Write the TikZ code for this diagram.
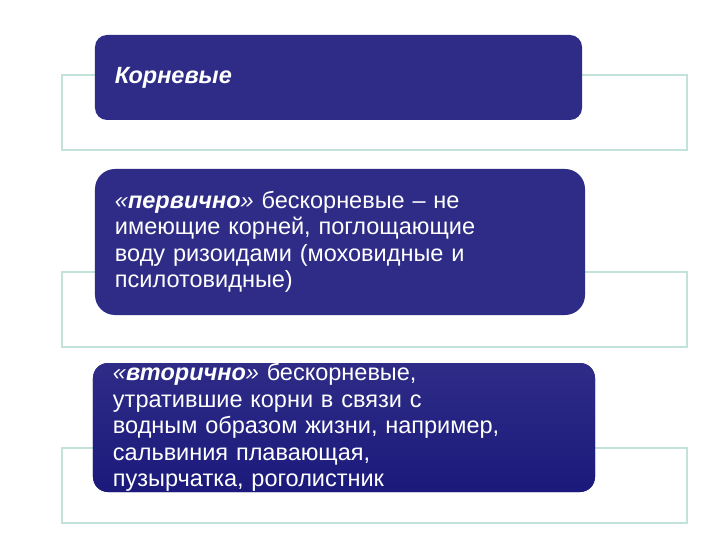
\documentclass[tikz,border=0pt]{standalone}
\usepackage{fontspec}
\setmainfont{Liberation Sans}
\definecolor{frameteal}{HTML}{C3E2DB}
\definecolor{boxblue}{HTML}{2E2C86}
\definecolor{boxdark}{HTML}{1B1A7C}
\tikzset{
  frame/.style={draw=frameteal,line width=1.6bp,rectangle,minimum width=625bp,minimum height=75bp,inner sep=0pt},
  box/.style={fill=boxblue,text=white,align=left,inner xsep=20bp,inner ysep=0pt,
    font=\fontsize{23.5bp}{26.5bp}\selectfont}
}

\begin{document}
\begin{tikzpicture}[x=1bp,y=-1bp]
  \useasboundingbox[fill=white] (0,0) rectangle (720,540);
  \node [frame] (f1) at (374.5,112.5) {};
  \node [frame] (f2) at (374.5,309.5) {};
  \node [frame] (f3) at (374.5,485.5) {};

  \node [box,rounded corners=12bp,minimum height=85bp,text width=447bp] (kornevye) at (338.5,77.5)
    {\textbf{\textit{Корневые}}};
  \node [box,rounded corners=20bp,minimum height=146bp,text width=450bp] (pervichno) at (340,242)
    {\textit{«\textbf{первично}»} бескорневые – не\\имеющие корней, поглощающие\\воду ризоидами (моховидные и\\псилотовидные)};
  \node [box,rounded corners=15bp,minimum height=129bp,text width=462bp,top color=boxblue,bottom color=boxdark] (vtorichno) at (344,427.5)
    {\textit{«\textbf{вторично}»} бескорневые,\\утратившие корни в связи с\\водным образом жизни, например,\\сальвиния плавающая,\\пузырчатка, роголистник};
\end{tikzpicture}
\end{document}
